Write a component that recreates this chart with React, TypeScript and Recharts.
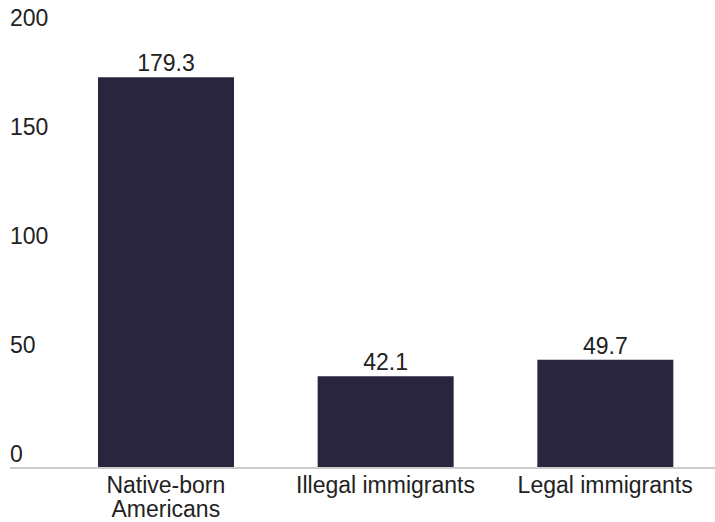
import { BarChart, Bar, XAxis, YAxis, LabelList, Text } from 'recharts'

const groups = ['Native-born Americans', 'Illegal immigrants', 'Legal immigrants']
const values = [179.3, 42.1, 49.7]
const yTicks = [0, 50, 100, 150, 200]

const data = groups.map((g, i) => ({ group: g, value: values[i] }))

const FONT = '"Liberation Sans", Arial, sans-serif'
const INK = '#222'

function YTick(props: any) {
  const { x, y, payload } = props
  return (
    <text x={x} y={y - 6} textAnchor="start" fontSize={23} fontFamily={FONT} fill={INK}>
      {payload.value}
    </text>
  )
}

function XTick(props: any) {
  const { x, y, payload } = props
  return (
    <Text
      x={x}
      y={y + 1}
      width={140}
      textAnchor="middle"
      verticalAnchor="start"
      fontSize={23}
      fontFamily={FONT}
      fill={INK}
      lineHeight={24}
    >
      {payload.value}
    </Text>
  )
}

export default function App() {
  return (
    <div style={{ position: 'absolute', left: 0, top: 0 }}>
      <BarChart
        width={715}
        height={522}
        data={data}
        margin={{ top: 32, right: 0, bottom: 24, left: 10 }}
      >
        <YAxis
          domain={[0, 200]}
          ticks={yTicks}
          width={1}
          mirror
          axisLine={false}
          tickLine={false}
          tickSize={0}
          tickMargin={0}
          tick={<YTick />}
        />
        <XAxis
          dataKey="group"
          height={30}
          padding={{ left: 46, right: 0 }}
          axisLine={{ stroke: '#cccccc', strokeWidth: 2 }}
          tickLine={false}
          interval={0}
          tick={<XTick />}
        />
        <Bar dataKey="value" fill="#29253f" barSize={136} isAnimationActive={false}>
          <LabelList
            dataKey="value"
            position="top"
            offset={6}
            fontSize={23}
            fontFamily={FONT}
            fill={INK}
          />
        </Bar>
      </BarChart>
    </div>
  )
}
